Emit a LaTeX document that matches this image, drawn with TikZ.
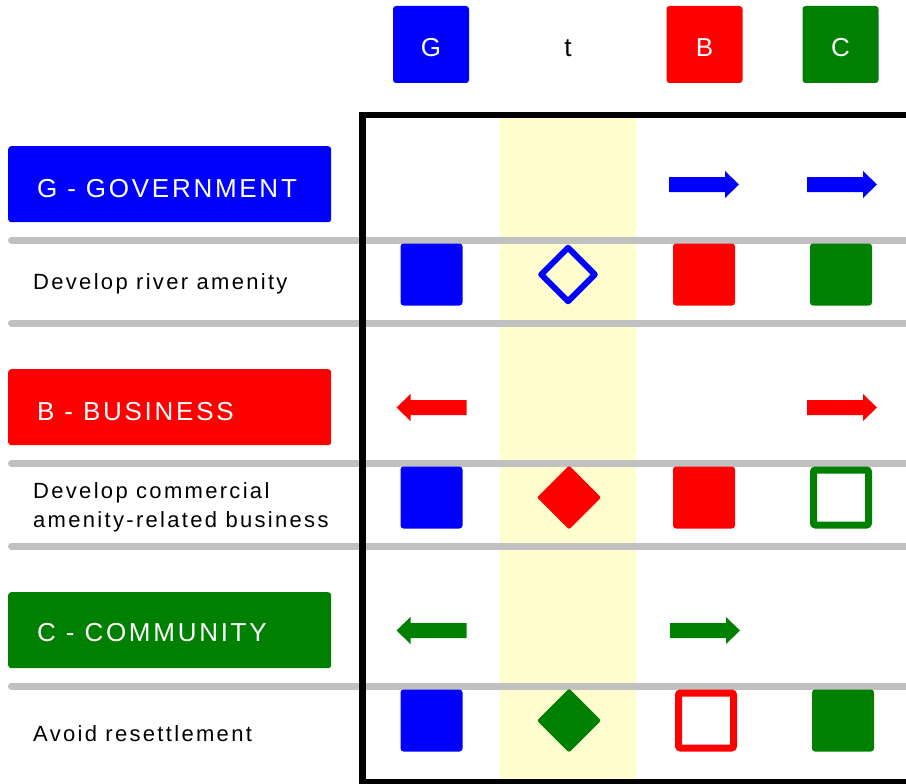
\documentclass[tikz,border=0pt]{standalone}
\usepackage{fontspec}
\setmainfont{Liberation Sans}[LetterSpace=10.5]
\usetikzlibrary{shapes.geometric}
\definecolor{mblue}{RGB}{0,0,255}
\definecolor{mred}{RGB}{255,0,0}
\definecolor{mgreen}{RGB}{0,128,0}
\definecolor{mgrey}{RGB}{192,192,192}
\definecolor{myellow}{RGB}{255,253,206}
\newcommand{\arrR}[3]{\fill[#3] (#1-35,#2-7.5) -- (#1+21,#2-7.5) -- (#1+21,#2-13.5) -- (#1+35,#2) -- (#1+21,#2+13.5) -- (#1+21,#2+7.5) -- (#1-35,#2+7.5) -- cycle;}
\newcommand{\arrL}[3]{\fill[#3] (#1+35,#2-7.5) -- (#1-21,#2-7.5) -- (#1-21,#2-13.5) -- (#1-35,#2) -- (#1-21,#2+13.5) -- (#1-21,#2+7.5) -- (#1+35,#2+7.5) -- cycle;}
\begin{document}
\begin{tikzpicture}[x=1pt,y=-1pt,
  bigtxt/.style={font=\fontsize{26}{30}\selectfont, inner sep=0},
  smalltxt/.style={font=\fontsize{22}{29}\selectfont, inner sep=0, anchor=base west, text=black},
  hdrbox/.style={rectangle, rounded corners=3pt, minimum width=76, minimum height=77, inner sep=0},
  labbox/.style={rectangle, rounded corners=3pt, minimum width=323, minimum height=76, anchor=north west, inner sep=0},
  sq/.style={rectangle, rounded corners=3pt, minimum size=62, inner sep=0, fill=#1},
  hsq/.style={rectangle, rounded corners=2pt, minimum size=55, line width=7, draw=#1, fill=white, inner sep=0},
  hdia/.style={diamond, minimum size=56, inner sep=0, draw=#1, line width=6, line join=round},
  fdia/.style={diamond, minimum size=60, inner sep=0, draw=#1, fill=#1, line width=4, line join=round},
  gline/.style={draw=mgrey, line width=7, line cap=round}
]
\useasboundingbox (0,0) rectangle (906,784);
\fill[white] (0,0) rectangle (906,784);
% yellow column
\fill[myellow] (500,118) rectangle (636,784);
% grey lines
\draw[gline] (11.5,240) -- (912,240);
\draw[gline] (11.5,323) -- (912,323);
\draw[gline] (11.5,463) -- (912,463);
\draw[gline] (11.5,546) -- (912,546);
\draw[gline] (11.5,686) -- (912,686);
% column headers
\node[hdrbox, fill=mblue] (hG) at (431,44.5) {};
\node[bigtxt, text=white, anchor=base] (hGt) at (431,57) {G};
\node[bigtxt, text=black, anchor=base] (hT) at (568,57) {t};
\node[hdrbox, fill=mred] (hB) at (704.5,44.5) {};
\node[bigtxt, text=white, anchor=base] (hBt) at (704.5,57) {B};
\node[hdrbox, fill=mgreen] (hC) at (840.5,44.5) {};
\node[bigtxt, text=white, anchor=base] (hCt) at (840.5,57) {C};
% row labels
\node[labbox, fill=mblue] (lG) at (8,146) {};
\node[bigtxt, text=white, anchor=base west] (lGt) at (37,197) {G - GOVERNMENT};
\node[smalltxt] (sG) at (33,289) {Develop river amenity};
\node[labbox, fill=mred] (lB) at (8,369) {};
\node[bigtxt, text=white, anchor=base west] (lBt) at (37,420) {B - BUSINESS};
\node[smalltxt] (sB1) at (33,498) {Develop commercial};
\node[smalltxt] (sB2) at (33,527) {amenity-related business};
\node[labbox, fill=mgreen] (lC) at (8,592) {};
\node[bigtxt, text=white, anchor=base west] (lCt) at (37,641) {C - COMMUNITY};
\node[smalltxt] (sC) at (33,741) {Avoid resettlement};
% row G
\arrR{704}{184.5}{mblue}
\arrR{842}{184.5}{mblue}
\node[sq=mblue] (gG) at (431.5,274.5) {};
\node[hdia=mblue] (gT) at (568,274.5) {};
\node[sq=mred] (gB) at (704,274.5) {};
\node[sq=mgreen] (gC) at (841,274.5) {};
% row B
\arrL{431.5}{407.5}{mred}
\arrR{842}{407.5}{mred}
\node[sq=mblue] (bG) at (431.5,497.5) {};
\node[fdia=mred] (bT) at (569,497.5) {};
\node[sq=mred] (bB) at (704,497.5) {};
\node[hsq=mgreen] (bC) at (841,497.5) {};
% row C
\arrL{431.5}{630.5}{mgreen}
\arrR{705}{630.5}{mgreen}
\node[sq=mblue] (cG) at (431.5,720.5) {};
\node[fdia=mgreen] (cT) at (569,720.5) {};
\node[hsq=mred] (cB) at (706,720.5) {};
\node[sq=mgreen] (cC) at (843,720.5) {};
% frame
\draw[line width=6.5, black] (362.5,115) rectangle (920,782);
\end{tikzpicture}
\end{document}
